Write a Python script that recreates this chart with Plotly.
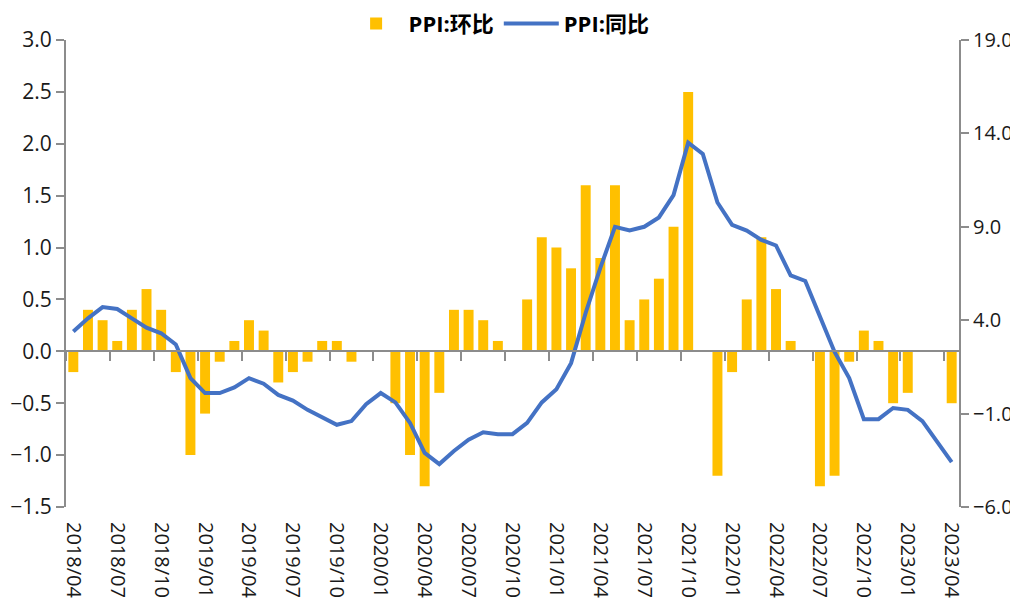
import plotly.graph_objects as go

months = [
    "2018/04","2018/05","2018/06","2018/07","2018/08","2018/09","2018/10","2018/11","2018/12",
    "2019/01","2019/02","2019/03","2019/04","2019/05","2019/06","2019/07","2019/08","2019/09","2019/10","2019/11","2019/12",
    "2020/01","2020/02","2020/03","2020/04","2020/05","2020/06","2020/07","2020/08","2020/09","2020/10","2020/11","2020/12",
    "2021/01","2021/02","2021/03","2021/04","2021/05","2021/06","2021/07","2021/08","2021/09","2021/10","2021/11","2021/12",
    "2022/01","2022/02","2022/03","2022/04","2022/05","2022/06","2022/07","2022/08","2022/09","2022/10","2022/11","2022/12",
    "2023/01","2023/02","2023/03","2023/04",
]

ppi_mom = [
    -0.2, 0.4, 0.3, 0.1, 0.4, 0.6, 0.4, -0.2, -1.0,
    -0.6, -0.1, 0.1, 0.3, 0.2, -0.3, -0.2, -0.1, 0.1, 0.1, -0.1, 0.0,
    0.0, -0.5, -1.0, -1.3, -0.4, 0.4, 0.4, 0.3, 0.1, 0.0, 0.5, 1.1,
    1.0, 0.8, 1.6, 0.9, 1.6, 0.3, 0.5, 0.7, 1.2, 2.5, 0.0, -1.2,
    -0.2, 0.5, 1.1, 0.6, 0.1, 0.0, -1.3, -1.2, -0.1, 0.2, 0.1, -0.5,
    -0.4, 0.0, 0.0, -0.5,
]

ppi_yoy = [
    3.4, 4.1, 4.7, 4.6, 4.1, 3.6, 3.3, 2.7, 0.9,
    0.1, 0.1, 0.4, 0.9, 0.6, 0.0, -0.3, -0.8, -1.2, -1.6, -1.4, -0.5,
    0.1, -0.4, -1.5, -3.1, -3.7, -3.0, -2.4, -2.0, -2.1, -2.1, -1.5, -0.4,
    0.3, 1.7, 4.4, 6.8, 9.0, 8.8, 9.0, 9.5, 10.7, 13.5, 12.9, 10.3,
    9.1, 8.8, 8.3, 8.0, 6.4, 6.1, 4.2, 2.3, 0.9, -1.3, -1.3, -0.7,
    -0.8, -1.4, -2.5, -3.6,
]

left_ticks = [-1.5, -1.0, -0.5, 0.0, 0.5, 1.0, 1.5, 2.0, 2.5, 3.0]
right_ticks = [-6.0, -1.0, 4.0, 9.0, 14.0, 19.0]

idx = list(range(len(months)))
label_idx = idx[::3]
label_text = [months[i] for i in label_idx]
between_ticks = [i - 0.5 for i in label_idx]

AXIS = "#8c8c8c"
FONT = "Open Sans, Noto Sans CJK SC, sans-serif"
TICKFONT = dict(family=FONT, size=21, color="#1a1a1a")

fig = go.Figure()
fig.add_trace(go.Bar(
    x=idx, y=ppi_mom, name="PPI:环比",
    marker=dict(color="#FFC000", line=dict(width=0)),
    yaxis="y", xaxis="x",
))
fig.add_trace(go.Scatter(
    x=idx, y=ppi_yoy, name="PPI:同比", mode="lines",
    line=dict(color="#4472C4", width=4),
    yaxis="y2", xaxis="x",
))
# invisible helper so the zero-crossing category axis is drawn
fig.add_trace(go.Scatter(x=[0], y=[0], xaxis="x2", yaxis="y", mode="markers",
                         marker=dict(opacity=0), showlegend=False, hoverinfo="skip"))

# page body has an 8px margin, so the figure is sized to fit the window
fig.update_layout(
    width=1010, height=590,
    margin=dict(l=58, r=59, t=32, b=91, autoexpand=False),
    plot_bgcolor="white", paper_bgcolor="white",
    font=dict(family=FONT, size=21, color="#1a1a1a"),
    bargap=0.32,
    showlegend=True,
    legend=dict(
        orientation="h", x=0.485, xanchor="center", y=1.035, yanchor="middle",
        font=dict(family=FONT, size=22, color="#000000", weight="bold"),
        bgcolor="rgba(0,0,0,0)", itemwidth=55,
    ),
    xaxis=dict(
        range=[-0.5, 60.5], tickmode="array", tickvals=label_idx, ticktext=label_text,
        tickangle=90, showline=False, showgrid=False, zeroline=False,
        ticks="outside", ticklen=10, tickcolor="rgba(0,0,0,0)",
        tickfont=dict(family=FONT, size=20, color="#1a1a1a"),
    ),
    xaxis2=dict(
        overlaying="x", matches="x", anchor="free", position=1/3,
        tickmode="array", tickvals=between_ticks, showticklabels=False,
        showline=True, linecolor=AXIS, linewidth=2,
        ticks="outside", ticklen=9, tickwidth=2, tickcolor=AXIS,
        showgrid=False, zeroline=False,
    ),
    yaxis=dict(
        range=[-1.5, 3.0], tickmode="array", tickvals=left_ticks, tickformat=".1f",
        showline=True, linecolor=AXIS, linewidth=2,
        ticks="outside", ticklen=8, tickwidth=2, tickcolor=AXIS,
        showgrid=False, zeroline=False, tickfont=TICKFONT,
    ),
    yaxis2=dict(
        range=[-6, 19], tickmode="array", tickvals=right_ticks, tickformat=".1f",
        overlaying="y", side="right", anchor="x",
        showline=True, linecolor=AXIS, linewidth=2,
        ticks="outside", ticklen=8, tickwidth=2, tickcolor=AXIS,
        showgrid=False, zeroline=False,
        tickfont=dict(family=FONT, size=20, color="#1a1a1a"),
    ),
)

fig.write_html("out.html")
